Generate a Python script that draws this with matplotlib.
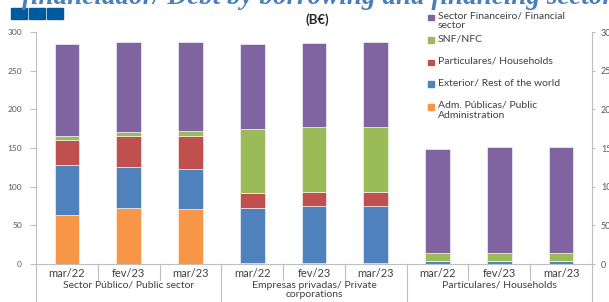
import matplotlib.pyplot as plt
from matplotlib.patches import Rectangle

# dados (mil milhões de euros)
periodos = ['mar/22', 'fev/23', 'mar/23'] * 3
grupos = ['Sector Público/ Public sector', 'Empresas privadas/ Private\ncorporations', 'Particulares/ Households']

adm_publicas = [63.5, 72.5, 71.5, 1.5, 1.5, 1.5, 0.3, 0.3, 0.3]
exterior = [64, 53, 51.5, 71.5, 74, 73.5, 3, 3, 3]
particulares = [33, 40, 43, 18.5, 18, 18.5, 1, 1, 1]
snf = [5.5, 5.5, 5.5, 82.5, 83.5, 83.5, 10, 10.5, 10.5]
financeiro = [118.5, 116, 115.5, 111, 109, 109.5, 134, 136.5, 136.5]

series = [
    ('Adm. Públicas/ Public\nAdministration', adm_publicas, '#f79646'),
    ('Exterior/ Rest of the world', exterior, '#4f81bd'),
    ('Particulares/ Households', particulares, '#c0504d'),
    ('SNF/NFC', snf, '#9bbb59'),
    ('Sector Financeiro/ Financial\nsector', financeiro, '#8064a2'),
]

plt.rcParams['font.family'] = ['Lato', 'DejaVu Sans']
cinza = '#bfbfbf'
txt = '#595959'
W, H = 609, 302

fig = plt.figure(figsize=(6.09, 3.02), dpi=100)
ax = fig.add_axes([36 / W, 1 - 264 / H, 556 / W, 232 / H])

x = [i + 0.5 for i in range(len(periodos))]
base = [0] * len(periodos)
for nome, vals, cor in series:
    ax.bar(x, vals, width=0.40, bottom=base, color=cor, label=nome,
           edgecolor='white', linewidth=0.4)
    base = [b + v for b, v in zip(base, vals)]

ax.set_xlim(0, 9)
ax.set_ylim(0, 300)
ax.set_yticks(range(0, 301, 50))
ax.tick_params(axis='y', labelsize=6, colors=cinza, labelcolor=txt, length=4, pad=6)
ax.set_xticks([])
for s in ['top', 'right']:
    ax.spines[s].set_visible(False)
for s in ['left', 'bottom']:
    ax.spines[s].set_color(cinza)

# eixo da direita
ax2 = ax.twinx()
ax2.set_ylim(0, 300)
ax2.set_yticks(range(0, 301, 50))
ax2.tick_params(axis='y', labelsize=6.5, colors=cinza, labelcolor=txt, length=2.5, pad=4)
for s in ['top', 'left', 'bottom']:
    ax2.spines[s].set_visible(False)
ax2.spines['right'].set_color(cinza)

# etiquetas das categorias
tr = ax.get_xaxis_transform()
for xi, p in zip(x, periodos):
    ax.text(xi, -0.042, p, transform=tr, ha='center', va='center',
            fontsize=8, color='#404040')
for g, nome in enumerate(grupos):
    ax.text(g * 3 + 1.5, -0.072, nome, transform=tr, ha='center',
            va='top', fontsize=7.5, color='#404040', linespacing=1.05)
for k in range(10):
    y0 = -0.17 if k % 3 == 0 else -0.069
    ax.plot([k, k], [0, y0], transform=tr, color=cinza, lw=0.8, clip_on=False)

# legenda (posicionada como no original)
leg_y = [17.3, 40, 62.3, 84, 106.7]
for (nome, vals, cor), yy in zip(series[::-1], leg_y):
    fig.add_artist(Rectangle((428 / W, 1 - (yy + 2.8) / H), 5.5 / W, 5.5 / H,
                             transform=fig.transFigure, color=cor))
    fig.text(438 / W, 1 - (yy - 6) / H, nome, ha='left', va='top', fontsize=7.5,
             color='#404040', linespacing=1.15)

fig.text(317 / W, 1 - 20 / H, '(B€)', ha='center', va='center', fontsize=9.5,
         fontweight='bold', color='#262626')

# cabeçalho cortado
fig.text(22 / W, 1 + 2 / H, 'financiador/ Debt by borrowing and financing sector',
         ha='left', va='center', fontsize=19.5, fontstyle='italic', fontweight='bold',
         family='Liberation Serif', color='#4a7ebb')
for i in range(3):
    fig.add_artist(Rectangle(((11 + 18 * i) / W, 1 - 19 / H), 16 / W, 11 / H,
                             transform=fig.transFigure, color='#005a9e'))

fig.savefig('out.png', dpi=100)
